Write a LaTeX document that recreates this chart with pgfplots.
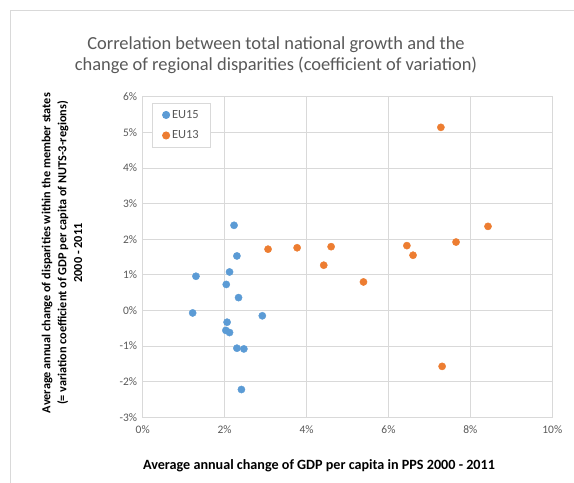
\documentclass[border=0pt]{standalone}
\usepackage{pgfplots}
\pgfplotsset{compat=1.18}
\usepackage{fontspec}
\setmainfont{Carlito}
\definecolor{blueA}{HTML}{5B9BD5}
\definecolor{orangeA}{HTML}{ED7D31}
\definecolor{tickgray}{HTML}{595959}
\definecolor{gridgray}{HTML}{D9D9D9}
\begin{document}
\begin{tikzpicture}
\useasboundingbox (0bp,0bp) rectangle (574bp,-483bp);
\fill[white] (0bp,0bp) rectangle (574bp,-483bp);
\draw[gridgray,line width=0.8bp] (10bp,-483bp) -- (10bp,-10bp) -- (574bp,-10bp);
\node[text=tickgray,align=center,font=\fontsize{18.5}{21}\selectfont] at (276bp,-55bp) {Correlation between total national growth and the\\change of regional disparities (coefficient of variation)};
\node[font=\bfseries\fontsize{14.2}{16}\selectfont,anchor=base] at (319bp,-469bp) {Average annual change of GDP per capita in PPS 2000 - 2011};
\node[font=\bfseries\fontsize{12.3}{16}\selectfont,align=center,rotate=90] at (62bp,-253bp) {Average annual change of disparities within the member states\\(= variation coefficient of GDP per capita of NUTS-3-regions)\\2000 - 2011};
\begin{axis}[
  at={(142.7bp,-417.3bp)}, anchor=south west,
  scale only axis, width=409.6bp, height=320.6bp,
  xmin=0, xmax=10, ymin=-3, ymax=6,
  xtick={0,2,...,10}, ytick={-3,-2,...,6},
  xticklabel={\pgfmathprintnumber{\tick}\%},
  yticklabel={\pgfmathprintnumber{\tick}\%},
  /pgf/number format/assume math mode=true,
  ticklabel style={text=tickgray,font=\fontsize{11.5}{13}\selectfont},
  xticklabel style={yshift=-5bp},
  yticklabel style={xshift=-2bp},
  major tick length=0pt,
  grid=major,
  grid style={gridgray,line width=0.8bp},
  axis line style={gridgray,line width=0.8bp},
  legend style={at={(0.022,0.981)}, anchor=north west,
    draw=gridgray, line width=0.8bp, font=\fontsize{12.5}{14}\selectfont,
    text=tickgray, inner xsep=10bp, inner ysep=5bp, row sep=7bp,
    legend cell align=left, cells={anchor=west}},
  legend image code/.code={\fill[#1] (0.7em,0) circle (3.6bp);},
]
\addplot[only marks, mark=*, mark size=3.6bp, color=blueA] coordinates {
(2.23,2.39) (2.30,1.53) (2.12,1.08) (1.30,0.96) (2.04,0.73) (2.34,0.36)
(1.22,-0.07) (2.92,-0.15) (2.06,-0.33) (2.03,-0.56) (2.12,-0.62)
(2.30,-1.06) (2.47,-1.08) (2.41,-2.22)
};
\addlegendentry{EU15}
\addplot[only marks, mark=*, mark size=3.6bp, color=orangeA] coordinates {
(3.06,1.72) (3.77,1.76) (4.60,1.79) (4.42,1.27) (7.28,5.14) (5.39,0.80)
(6.45,1.82) (6.60,1.55) (7.65,1.92) (8.43,2.36) (7.31,-1.57)
};
\addlegendentry{EU13}
\end{axis}
\end{tikzpicture}
\end{document}
